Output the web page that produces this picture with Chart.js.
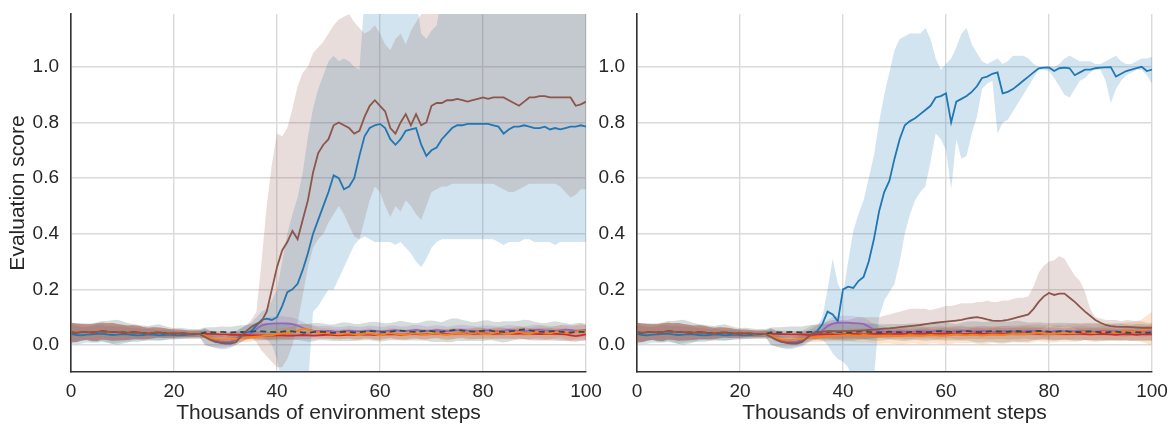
<!DOCTYPE html>
<html>
<head>
<meta charset="utf-8">
<script src="https://cdn.jsdelivr.net/npm/chart.js@4/dist/chart.umd.min.js"></script>
<style>
  body { margin: 0; background: #fff; }
  #wrap { position: relative; width: 1172px; height: 424px; }
  #wrap canvas { position: absolute; left: 0; top: 0; }
</style>
</head>
<body>
<div id="wrap">
  <canvas id="leftPanel" width="1172" height="424"></canvas>
  <canvas id="rightPanel" width="1172" height="424"></canvas>
</div>
<script>
// x positions (thousands of steps)
const steps = [0,1,2,3,4,5,6,7,8,9,10,11,12,13,14,15,16,17,18,19,20,
  21,22,23,24,25,26,27,28,29,30,31,32,33,34,35,36,37,38,39,40,
  41,42,43,44,45,46,47,48,49,50,51,52,53,54,55,56,57,58,59,60,
  61,62,63,64,65,66,67,68,69,70,71,72,73,74,75,76,77,78,79,80,
  81,82,83,84,85,86,87,88,89,90,91,92,93,94,95,96,97,98,99,100];
const xTicks = [0, 20, 40, 60, 80, 100];
const yTicks = [0, 0.2, 0.4, 0.6, 0.8, 1.0];
const yMin = -0.097, yMax = 1.19;

// shared warm-up phase, steps 0..25
const warmMean = [0.045,0.044,0.046,0.047,0.045,0.046,0.05,0.048,0.047,0.046,0.045,0.044,0.046,
  0.045,0.043,0.042,0.044,0.045,0.043,0.042,0.041,0.042,0.041,0.040,0.040,0.040];
const warmSpread = [0.035,0.033,0.03,0.028,0.03,0.032,0.03,0.03,0.032,0.03,0.028,0.026,0.025,
  0.024,0.022,0.02,0.02,0.018,0.018,0.016,0.015,0.014,0.013,0.012,0.012,0.012];
const blueWarm = [0.040,0.036,0.035,0.037,0.038,0.040,0.041,0.038,0.036,0.037,0.039,0.038,0.036,
  0.035,0.036,0.038,0.037,0.035,0.036,0.037,0.036,0.035,0.036,0.037,0.038,0.040];
const dashWarmSpread = [0.036,0.034,0.032,0.03,0.033,0.035,0.036,0.038,0.042,0.045,0.04,0.035,0.03,
  0.028,0.027,0.026,0.028,0.03,0.026,0.022,0.02,0.02,0.019,0.018,0.018,0.018];

// ---- left panel, steps 26..100 ----
const blueMeanL = [0.03,0.02,0.012,0.01,0.008,0.01,0.02,0.035,0.045,0.05,0.07,0.09,0.095,0.09,0.1,
  0.14,0.19,0.2,0.22,0.27,0.33,0.4,0.45,0.5,0.55,0.61,0.6,0.56,0.57,0.6,
  0.68,0.75,0.78,0.79,0.795,0.78,0.74,0.72,0.74,0.77,0.775,0.78,0.72,0.68,0.7,
  0.71,0.74,0.76,0.78,0.79,0.79,0.795,0.795,0.795,0.795,0.795,0.79,0.785,0.76,0.775,
  0.785,0.785,0.79,0.785,0.78,0.78,0.785,0.775,0.78,0.775,0.78,0.785,0.785,0.79,0.785];
const blueHiL = [0.06,0.05,0.04,0.035,0.03,0.035,0.045,0.06,0.07,0.08,0.1,0.12,0.13,0.16,0.2,
  0.3,0.4,0.47,0.53,0.62,0.75,0.85,0.92,0.97,1.02,1.04,1.02,1.03,1.02,1.0,
  0.99,1.25,1.25,1.25,1.25,1.25,1.25,1.25,1.25,1.25,1.25,1.25,1.12,1.1,1.13,
  1.15,1.25,1.25,1.25,1.25,1.25,1.25,1.25,1.25,1.25,1.25,1.25,1.25,1.25,1.25,
  1.25,1.25,1.25,1.25,1.25,1.25,1.25,1.25,1.25,1.25,1.25,1.25,1.25,1.25,1.25];
const blueLoL = [0.0,-0.005,-0.01,-0.015,-0.015,-0.01,0.0,0.01,0.02,0.025,0.03,0.03,0.02,0.0,-0.05,
  -0.15,-0.15,-0.15,-0.15,-0.15,-0.15,0.12,0.14,0.17,0.2,0.2,0.24,0.28,0.32,0.36,
  0.38,0.39,0.38,0.37,0.37,0.37,0.37,0.36,0.37,0.35,0.33,0.3,0.28,0.31,0.35,
  0.37,0.38,0.38,0.38,0.38,0.38,0.38,0.38,0.38,0.38,0.38,0.38,0.37,0.36,0.37,
  0.37,0.37,0.38,0.38,0.37,0.37,0.37,0.37,0.36,0.37,0.37,0.37,0.37,0.37,0.37];
const brownMeanL = [0.03,0.02,0.012,0.008,0.005,0.005,0.01,0.03,0.05,0.065,0.075,0.085,0.12,0.2,0.28,
  0.34,0.37,0.41,0.38,0.45,0.52,0.62,0.69,0.72,0.74,0.79,0.8,0.79,0.78,0.76,
  0.77,0.82,0.86,0.88,0.86,0.84,0.78,0.76,0.8,0.83,0.79,0.83,0.79,0.8,0.86,
  0.87,0.87,0.88,0.88,0.885,0.88,0.875,0.88,0.885,0.89,0.885,0.89,0.89,0.89,0.88,
  0.87,0.86,0.875,0.89,0.89,0.895,0.895,0.89,0.89,0.89,0.89,0.89,0.86,0.865,0.875];
const brownHiL = [0.06,0.05,0.04,0.04,0.04,0.045,0.05,0.06,0.07,0.09,0.12,0.3,0.5,0.65,0.76,
  0.75,0.78,0.85,0.93,0.98,1.0,1.05,1.07,1.09,1.12,1.15,1.17,1.18,1.19,1.16,
  1.14,1.12,1.13,1.15,1.12,1.08,1.06,1.1,1.12,1.08,1.13,1.16,1.19,1.2,1.22,
  1.25,1.25,1.25,1.25,1.25,1.25,1.25,1.25,1.25,1.25,1.25,1.25,1.25,1.25,1.25,
  1.25,1.25,1.25,1.25,1.25,1.25,1.25,1.25,1.25,1.25,1.25,1.25,1.25,1.25,1.25];
const brownLoL = [0.0,-0.005,-0.01,-0.01,-0.01,-0.005,0.0,0.01,0.02,0.03,0.01,-0.02,-0.04,-0.06,-0.08,
  -0.08,-0.05,0.0,0.08,0.18,0.28,0.35,0.38,0.4,0.44,0.47,0.5,0.47,0.43,0.39,
  0.38,0.45,0.52,0.57,0.55,0.5,0.46,0.5,0.48,0.52,0.5,0.47,0.45,0.5,0.55,
  0.56,0.57,0.57,0.58,0.58,0.58,0.58,0.58,0.58,0.58,0.58,0.58,0.57,0.56,0.55,
  0.55,0.56,0.57,0.58,0.58,0.58,0.58,0.58,0.58,0.57,0.55,0.53,0.54,0.56,0.56];
const orangeMeanL = [0.035,0.025,0.022,0.02,0.02,0.02,0.022,0.025,0.025,0.028,0.03,0.032,0.035,0.035,0.04,
  0.042,0.045,0.048,0.052,0.058,0.055,0.05,0.045,0.044,0.042,0.04,0.038,0.04,0.042,0.038,
  0.036,0.04,0.042,0.038,0.035,0.04,0.043,0.04,0.038,0.036,0.04,0.042,0.039,0.037,0.04,
  0.042,0.038,0.036,0.04,0.043,0.041,0.038,0.042,0.045,0.04,0.038,0.043,0.046,0.042,0.04,
  0.044,0.047,0.043,0.04,0.045,0.048,0.044,0.042,0.046,0.05,0.045,0.043,0.047,0.052,0.048];
const orangeSpreadL = [0.012,0.012,0.012,0.012,0.012,0.013,0.013,0.014,0.015,0.015,0.016,0.016,0.017,0.017,0.018,
  0.018,0.018,0.019,0.02,0.02,0.02,0.019,0.018,0.018,0.017,0.017,0.018,0.018,0.017,0.017,
  0.018,0.017,0.018,0.019,0.018,0.017,0.018,0.019,0.018,0.017,0.018,0.019,0.018,0.018,0.017,
  0.018,0.019,0.02,0.019,0.018,0.018,0.019,0.02,0.021,0.02,0.019,0.02,0.021,0.02,0.02,
  0.021,0.022,0.021,0.02,0.021,0.022,0.023,0.022,0.021,0.022,0.023,0.024,0.025,0.025,0.024];
const redMeanL = [0.04,0.04,0.039,0.038,0.038,0.037,0.037,0.036,0.036,0.035,0.035,0.035,0.034,0.034,0.035,
  0.035,0.034,0.034,0.035,0.036,0.035,0.034,0.035,0.036,0.037,0.036,0.035,0.036,0.037,0.036,
  0.037,0.038,0.037,0.036,0.037,0.038,0.039,0.038,0.037,0.038,0.04,0.039,0.038,0.039,0.04,
  0.041,0.04,0.039,0.04,0.041,0.042,0.041,0.04,0.041,0.042,0.041,0.04,0.041,0.042,0.041,
  0.04,0.041,0.042,0.041,0.04,0.039,0.04,0.041,0.04,0.039,0.038,0.035,0.032,0.035,0.038];
const redSpreadL = [0.012,0.012,0.011,0.011,0.011,0.012,0.012,0.012,0.013,0.013,0.013,0.014,0.014,0.013,0.013,
  0.013,0.014,0.014,0.015,0.015,0.014,0.014,0.013,0.014,0.015,0.015,0.014,0.014,0.015,0.016,
  0.016,0.015,0.015,0.016,0.017,0.016,0.015,0.016,0.017,0.018,0.017,0.016,0.017,0.018,0.017,
  0.016,0.017,0.018,0.019,0.018,0.017,0.018,0.019,0.02,0.019,0.018,0.019,0.02,0.019,0.018,
  0.019,0.02,0.021,0.02,0.019,0.02,0.021,0.02,0.019,0.02,0.021,0.022,0.021,0.02,0.02];
const purpleMeanL = [0.035,0.025,0.018,0.014,0.012,0.013,0.02,0.03,0.035,0.042,0.058,0.07,0.075,0.077,0.078,
  0.078,0.077,0.075,0.07,0.062,0.055,0.052,0.05,0.05,0.051,0.049,0.048,0.05,0.052,0.05,
  0.049,0.05,0.052,0.051,0.049,0.05,0.052,0.053,0.051,0.05,0.052,0.054,0.052,0.05,0.051,
  0.053,0.052,0.05,0.051,0.053,0.054,0.052,0.051,0.05,0.052,0.053,0.051,0.05,0.052,0.054,
  0.053,0.051,0.05,0.052,0.054,0.055,0.053,0.052,0.051,0.053,0.055,0.054,0.052,0.053,0.054];
const purpleSpreadL = [0.012,0.012,0.012,0.012,0.012,0.013,0.014,0.015,0.016,0.018,0.02,0.022,0.024,0.025,0.025,
  0.025,0.024,0.024,0.023,0.022,0.02,0.019,0.018,0.018,0.017,0.017,0.016,0.016,0.017,0.017,
  0.016,0.017,0.018,0.017,0.016,0.017,0.018,0.017,0.016,0.017,0.018,0.019,0.018,0.017,0.017,
  0.018,0.017,0.016,0.017,0.018,0.019,0.018,0.017,0.016,0.017,0.018,0.017,0.016,0.017,0.018,
  0.017,0.016,0.017,0.018,0.019,0.018,0.017,0.016,0.017,0.018,0.019,0.018,0.017,0.018,0.018];
const dashMeanL = [0.045,0.046,0.045,0.047,0.046,0.045,0.046,0.047,0.046,0.048,0.05,0.049,0.048,0.047,0.046,
  0.048,0.05,0.049,0.047,0.045,0.044,0.046,0.048,0.047,0.045,0.044,0.046,0.048,0.047,0.045,
  0.046,0.048,0.05,0.049,0.047,0.046,0.048,0.05,0.052,0.05,0.048,0.047,0.049,0.051,0.05,
  0.048,0.047,0.05,0.053,0.055,0.052,0.05,0.048,0.049,0.051,0.053,0.05,0.048,0.047,0.049,
  0.051,0.054,0.056,0.053,0.05,0.048,0.047,0.049,0.05,0.048,0.046,0.045,0.047,0.048,0.046];
const dashSpreadL = [0.018,0.018,0.019,0.02,0.02,0.021,0.022,0.024,0.026,0.028,0.03,0.03,0.031,0.03,0.03,
  0.031,0.032,0.03,0.029,0.03,0.032,0.033,0.031,0.03,0.029,0.03,0.032,0.034,0.033,0.031,
  0.03,0.031,0.033,0.035,0.034,0.032,0.031,0.033,0.035,0.034,0.032,0.031,0.033,0.036,0.038,
  0.037,0.035,0.04,0.042,0.04,0.038,0.036,0.034,0.035,0.037,0.036,0.034,0.035,0.038,0.036,
  0.034,0.033,0.035,0.036,0.034,0.032,0.031,0.033,0.035,0.034,0.032,0.03,0.031,0.032,0.03];

// ---- right panel, steps 26..100 ----
const blueMeanR = [0.03,0.02,0.012,0.01,0.008,0.01,0.015,0.025,0.04,0.05,0.075,0.12,0.11,0.085,0.2,
  0.21,0.205,0.23,0.245,0.3,0.38,0.48,0.55,0.59,0.67,0.74,0.79,0.805,0.815,0.83,
  0.845,0.86,0.89,0.895,0.905,0.8,0.875,0.885,0.895,0.91,0.93,0.96,0.965,0.975,0.98,
  0.905,0.91,0.92,0.935,0.95,0.965,0.98,0.995,0.997,0.998,0.985,0.995,0.997,0.995,0.97,
  0.98,0.99,0.99,0.995,0.997,0.998,0.999,0.965,0.975,0.985,0.99,0.995,1.0,0.985,0.99];
const blueHiR = [0.06,0.05,0.04,0.035,0.03,0.032,0.04,0.05,0.06,0.07,0.1,0.2,0.31,0.22,0.18,
  0.3,0.41,0.47,0.52,0.6,0.68,0.8,0.9,0.98,1.06,1.1,1.11,1.12,1.12,1.12,
  1.14,1.1,1.03,0.99,1.01,1.03,1.07,1.12,1.14,1.08,1.05,1.02,1.01,1.02,1.03,
  1.01,1.02,1.04,1.04,1.04,1.03,1.01,1.0,1.0,1.0,1.0,1.01,1.03,1.04,1.03,
  1.02,1.02,1.02,1.01,1.01,1.02,1.03,1.04,1.02,1.01,1.01,1.02,1.03,1.03,1.035];
const blueLoR = [0.0,-0.005,-0.01,-0.015,-0.015,-0.01,-0.005,0.005,0.015,0.02,0.02,0.0,-0.03,-0.05,-0.06,
  -0.08,-0.15,-0.15,-0.15,-0.15,-0.12,0.1,0.16,0.19,0.22,0.3,0.4,0.47,0.52,0.55,
  0.57,0.66,0.76,0.74,0.7,0.56,0.74,0.67,0.68,0.76,0.82,0.92,0.94,0.95,0.76,
  0.8,0.81,0.84,0.87,0.9,0.93,0.96,0.99,0.99,0.985,0.96,0.93,0.9,0.89,0.92,
  0.95,0.96,0.98,0.99,0.99,0.95,0.87,0.92,0.95,0.97,0.98,0.99,0.99,0.97,0.94];
const brownMeanR = [0.03,0.02,0.012,0.008,0.005,0.005,0.01,0.025,0.04,0.045,0.048,0.05,0.05,0.05,0.05,
  0.05,0.051,0.052,0.053,0.054,0.055,0.057,0.059,0.06,0.062,0.064,0.066,0.068,0.07,0.072,
  0.075,0.078,0.08,0.082,0.084,0.086,0.088,0.09,0.095,0.098,0.1,0.097,0.092,0.088,0.087,
  0.088,0.09,0.095,0.1,0.105,0.11,0.13,0.155,0.175,0.187,0.18,0.185,0.185,0.17,0.155,
  0.137,0.12,0.105,0.09,0.08,0.072,0.068,0.066,0.065,0.065,0.064,0.063,0.062,0.062,0.062];
const brownHiR = [0.06,0.05,0.04,0.04,0.04,0.045,0.05,0.06,0.07,0.075,0.08,0.085,0.09,0.09,0.09,
  0.09,0.095,0.1,0.1,0.1,0.1,0.1,0.105,0.11,0.115,0.12,0.125,0.13,0.13,0.13,
  0.13,0.125,0.13,0.135,0.14,0.14,0.145,0.15,0.15,0.15,0.155,0.155,0.16,0.155,0.155,
  0.16,0.16,0.165,0.17,0.17,0.175,0.21,0.26,0.285,0.3,0.305,0.32,0.31,0.28,0.25,
  0.23,0.19,0.13,0.1,0.095,0.09,0.09,0.09,0.085,0.09,0.088,0.085,0.085,0.08,0.08];
const brownLoR = [0.0,-0.005,-0.01,-0.01,-0.01,-0.005,0.0,0.01,0.02,0.022,0.022,0.022,0.02,0.02,0.02,
  0.02,0.021,0.022,0.022,0.023,0.024,0.025,0.026,0.027,0.028,0.028,0.029,0.03,0.03,0.031,
  0.032,0.033,0.034,0.034,0.035,0.035,0.036,0.036,0.037,0.038,0.038,0.037,0.036,0.035,0.035,
  0.036,0.037,0.038,0.04,0.042,0.045,0.05,0.055,0.06,0.07,0.065,0.065,0.068,0.065,0.06,
  0.05,0.05,0.045,0.042,0.04,0.04,0.04,0.04,0.04,0.041,0.042,0.042,0.043,0.044,0.044];
const orangeMeanR = [0.035,0.025,0.02,0.018,0.018,0.02,0.022,0.025,0.027,0.028,0.03,0.032,0.033,0.034,0.035,
  0.036,0.035,0.034,0.036,0.035,0.033,0.032,0.034,0.035,0.033,0.032,0.034,0.036,0.035,0.033,
  0.034,0.036,0.035,0.033,0.034,0.036,0.038,0.036,0.035,0.037,0.036,0.034,0.036,0.038,0.037,
  0.036,0.038,0.04,0.039,0.041,0.04,0.043,0.045,0.042,0.04,0.041,0.043,0.042,0.044,0.043,
  0.045,0.047,0.044,0.043,0.046,0.048,0.046,0.044,0.047,0.05,0.048,0.05,0.052,0.055,0.06];
const orangeSpreadR = [0.012,0.012,0.012,0.012,0.013,0.013,0.014,0.015,0.016,0.017,0.018,0.019,0.02,0.021,0.022,
  0.023,0.024,0.025,0.026,0.026,0.027,0.028,0.028,0.029,0.03,0.03,0.031,0.03,0.029,0.03,
  0.031,0.03,0.029,0.03,0.031,0.032,0.031,0.03,0.029,0.03,0.031,0.032,0.031,0.03,0.031,
  0.032,0.031,0.03,0.031,0.032,0.033,0.032,0.031,0.03,0.031,0.032,0.031,0.03,0.031,0.032,
  0.031,0.03,0.031,0.032,0.033,0.032,0.031,0.03,0.031,0.032,0.034,0.036,0.04,0.05,0.06];
const redMeanR = [0.04,0.04,0.039,0.039,0.038,0.038,0.038,0.037,0.037,0.038,0.038,0.039,0.038,0.037,0.038,
  0.039,0.04,0.039,0.038,0.039,0.04,0.041,0.04,0.039,0.04,0.041,0.04,0.039,0.04,0.041,
  0.042,0.041,0.04,0.041,0.042,0.041,0.04,0.039,0.04,0.041,0.042,0.041,0.04,0.041,0.042,
  0.041,0.04,0.041,0.042,0.043,0.042,0.041,0.04,0.041,0.042,0.041,0.04,0.039,0.04,0.041,
  0.04,0.039,0.038,0.039,0.04,0.039,0.038,0.037,0.038,0.039,0.038,0.037,0.038,0.039,0.038];
const redSpreadR = [0.012,0.012,0.012,0.012,0.012,0.012,0.013,0.013,0.013,0.014,0.014,0.014,0.015,0.015,0.015,
  0.015,0.016,0.016,0.016,0.017,0.017,0.016,0.016,0.017,0.017,0.018,0.018,0.017,0.017,0.018,
  0.018,0.017,0.018,0.019,0.018,0.018,0.019,0.019,0.018,0.019,0.02,0.019,0.019,0.02,0.02,
  0.019,0.02,0.02,0.021,0.02,0.02,0.021,0.021,0.02,0.021,0.022,0.021,0.02,0.021,0.021,
  0.02,0.021,0.022,0.021,0.02,0.021,0.022,0.021,0.02,0.021,0.022,0.021,0.02,0.021,0.021];
const purpleMeanR = [0.035,0.025,0.018,0.014,0.012,0.013,0.02,0.028,0.034,0.04,0.052,0.068,0.077,0.08,0.08,
  0.08,0.079,0.078,0.076,0.066,0.056,0.05,0.048,0.047,0.048,0.049,0.048,0.047,0.048,0.05,
  0.049,0.048,0.05,0.051,0.049,0.048,0.05,0.052,0.05,0.049,0.05,0.051,0.05,0.048,0.049,
  0.05,0.051,0.05,0.049,0.05,0.052,0.051,0.05,0.049,0.048,0.05,0.051,0.05,0.049,0.05,
  0.051,0.05,0.049,0.048,0.05,0.051,0.05,0.049,0.048,0.049,0.05,0.049,0.048,0.049,0.05];
const purpleSpreadR = [0.012,0.012,0.012,0.012,0.012,0.013,0.014,0.015,0.016,0.018,0.02,0.022,0.024,0.025,0.025,
  0.025,0.025,0.024,0.023,0.022,0.02,0.019,0.018,0.017,0.017,0.016,0.016,0.016,0.017,0.017,
  0.017,0.016,0.017,0.018,0.017,0.016,0.017,0.018,0.017,0.016,0.017,0.018,0.017,0.016,0.017,
  0.018,0.017,0.016,0.017,0.018,0.017,0.016,0.017,0.018,0.017,0.016,0.017,0.018,0.017,0.016,
  0.017,0.018,0.017,0.016,0.017,0.018,0.017,0.016,0.017,0.018,0.017,0.016,0.017,0.018,0.017];
const dashMeanR = [0.045,0.046,0.045,0.046,0.047,0.046,0.045,0.046,0.047,0.046,0.045,0.047,0.048,0.047,0.046,
  0.045,0.046,0.048,0.049,0.047,0.046,0.045,0.046,0.048,0.047,0.046,0.045,0.047,0.048,0.047,
  0.046,0.047,0.049,0.05,0.048,0.047,0.046,0.048,0.05,0.049,0.047,0.046,0.048,0.05,0.049,
  0.048,0.047,0.049,0.05,0.048,0.047,0.049,0.051,0.05,0.048,0.047,0.049,0.05,0.048,0.047,
  0.046,0.048,0.049,0.047,0.046,0.045,0.047,0.048,0.046,0.045,0.044,0.046,0.045,0.044,0.045];
const dashSpreadR = [0.018,0.018,0.019,0.02,0.02,0.021,0.022,0.024,0.026,0.028,0.03,0.03,0.031,0.03,0.03,
  0.03,0.031,0.03,0.029,0.03,0.031,0.03,0.029,0.028,0.029,0.03,0.031,0.03,0.029,0.03,
  0.031,0.03,0.032,0.033,0.032,0.031,0.03,0.032,0.034,0.036,0.038,0.037,0.036,0.038,0.04,
  0.039,0.037,0.036,0.038,0.036,0.034,0.032,0.031,0.03,0.031,0.032,0.031,0.03,0.031,0.032,
  0.031,0.03,0.031,0.032,0.031,0.03,0.029,0.03,0.031,0.03,0.029,0.03,0.031,0.03,0.03];

const COLORS = {
  blue: '#1f77b4', orange: '#ff7f0e', red: '#d62728',
  purple: '#9467bd', brown: '#8c564b', dash: '#2f4f4f'
};
const FONT = "'Liberation Sans', Arial, sans-serif";
const INK = '#262626';

function rgba(hex, a) {
  const n = parseInt(hex.slice(1), 16);
  return `rgba(${(n >> 16) & 255},${(n >> 8) & 255},${n & 255},${a})`;
}
const add = (a, b) => a.map((v, i) => v + b[i]);
const sub = (a, b) => a.map((v, i) => v - b[i]);

// series with explicit band edges (blue / brown)
function edged(color, warm, mean, hi, lo) {
  return {
    color: color,
    mean: warm.concat(mean),
    hi: add(warm, warmSpread).concat(hi),
    lo: sub(warm, warmSpread).concat(lo)
  };
}
// series with symmetric spread
function spread(color, mean, sd, warmSd, dashed) {
  const m = warmMean.concat(mean);
  const s = warmSd.concat(sd);
  return { color: color, mean: m, hi: add(m, s), lo: sub(m, s), dashed: !!dashed };
}

function drawPanel(id, series, yWidth, padRight, showYTitle) {
  const datasets = [];
  // lines first: index 0 ends up on top
  series.forEach(s => datasets.push({
    data: s.mean,
    borderColor: s.color,
    borderWidth: 1.8,
    borderDash: s.dashed ? [6, 4] : [],
    pointRadius: 0,
    tension: 0,
    fill: false
  }));
  series.forEach(s => {
    datasets.push({
      data: s.hi, borderColor: 'transparent', borderWidth: 0, pointRadius: 0,
      fill: '+1', backgroundColor: rgba(s.color, 0.2)
    });
    datasets.push({
      data: s.lo, borderColor: 'transparent', borderWidth: 0, pointRadius: 0, fill: false
    });
  });

  return new Chart(document.getElementById(id), {
    type: 'line',
    data: { labels: steps, datasets: datasets },
    options: {
      responsive: false,
      animation: false,
      events: [],
      layout: { padding: { top: 14, right: padRight, left: 0, bottom: 0 } },
      plugins: {
        legend: { display: false },
        tooltip: { enabled: false },
        filler: { drawTime: 'beforeDatasetsDraw' }
      },
      scales: {
        x: {
          type: 'linear', min: 0, max: 100,
          afterBuildTicks: s => { s.ticks = xTicks.map(v => ({ value: v })); },
          afterFit: s => { s.height = 52; s.paddingLeft = 0; s.paddingRight = 0; },
          ticks: {
            autoSkip: false, maxRotation: 0, padding: 8, color: INK,
            font: { family: FONT, size: 19 },
            callback: v => String(v)
          },
          grid: { color: '#dadada', lineWidth: 1.4, drawTicks: false },
          border: { color: '#333333', width: 1.6 },
          title: {
            display: true, text: 'Thousands of environment steps', color: INK,
            font: { family: FONT, size: 21 }, padding: { top: 0, bottom: -2 }
          }
        },
        y: {
          min: yMin, max: yMax,
          afterBuildTicks: s => { s.ticks = yTicks.map(v => ({ value: v })); },
          afterFit: s => { s.width = yWidth; s.paddingTop = 0; s.paddingBottom = 0; },
          ticks: {
            padding: 12, color: INK,
            font: { family: FONT, size: 19 },
            callback: v => v.toFixed(1)
          },
          grid: { color: '#dadada', lineWidth: 1.4, drawTicks: false },
          border: { color: '#333333', width: 1.6 },
          title: {
            display: showYTitle, text: 'Evaluation score', color: INK,
            font: { family: FONT, size: 21 }, padding: { top: 6, bottom: 0 }
          }
        }
      }
    }
  });
}

drawPanel('leftPanel', [
  edged(COLORS.brown, warmMean, brownMeanL, brownHiL, brownLoL),
  spread(COLORS.dash, dashMeanL, dashSpreadL, dashWarmSpread, true),
  spread(COLORS.orange, orangeMeanL, orangeSpreadL, warmSpread),
  spread(COLORS.red, redMeanL, redSpreadL, warmSpread),
  spread(COLORS.purple, purpleMeanL, purpleSpreadL, warmSpread),
  edged(COLORS.blue, blueWarm, blueMeanL, blueHiL, blueLoL)
], 71, 586, true);

drawPanel('rightPanel', [
  edged(COLORS.brown, warmMean, brownMeanR, brownHiR, brownLoR),
  spread(COLORS.dash, dashMeanR, dashSpreadR, dashWarmSpread, true),
  spread(COLORS.orange, orangeMeanR, orangeSpreadR, warmSpread),
  spread(COLORS.red, redMeanR, redSpreadR, warmSpread),
  spread(COLORS.purple, purpleMeanR, purpleSpreadR, warmSpread),
  edged(COLORS.blue, blueWarm, blueMeanR, blueHiR, blueLoR)
], 637, 20, false);
</script>
</body>
</html>
